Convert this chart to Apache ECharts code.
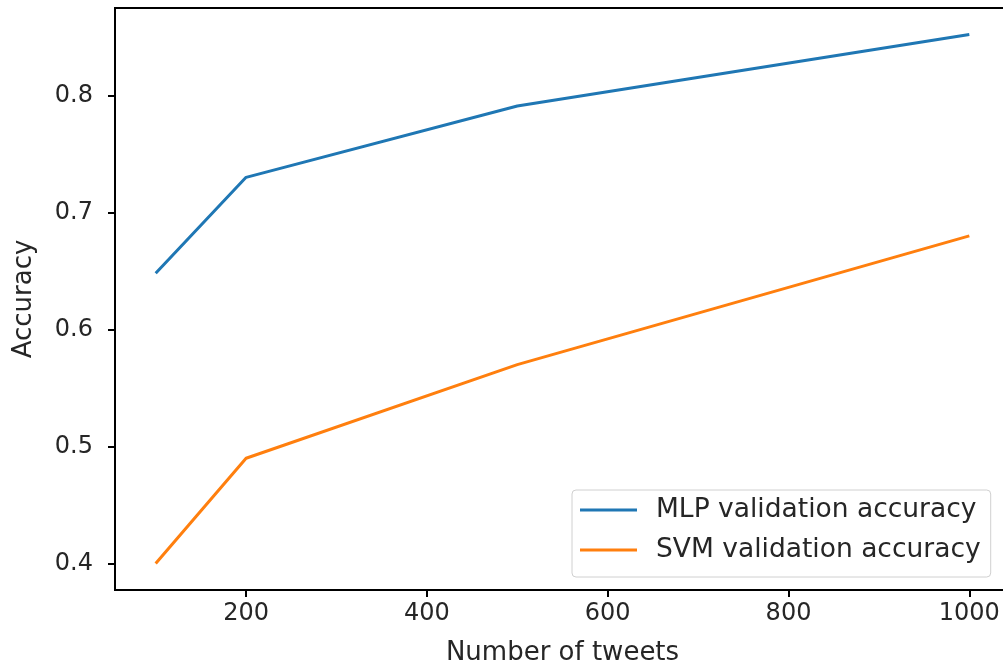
<!DOCTYPE html>
<html>
<head>
<meta charset="utf-8">
<script src="https://cdn.jsdelivr.net/npm/echarts@6/dist/echarts.min.js"></script>
<style>
html, body { margin: 0; padding: 0; background: #fff; }
#main { width: 1003px; height: 671px; }
</style>
</head>
<body>
<div id="main"></div>
<script>
var tweets = [100, 200, 500, 1000];
var mlpAcc = [0.648, 0.730, 0.791, 0.852];
var svmAcc = [0.400, 0.490, 0.570, 0.680];
var xTicks = [200, 400, 600, 800, 1000];
var yTicks = [0.4, 0.5, 0.6, 0.7, 0.8];

function pairs(xs, ys) {
	return xs.map(function (x, i) { return [x, ys[i]]; });
}

var myChart = echarts.init(document.getElementById('main'));
var font = 'DejaVu Sans';

var option = {
	animation: false,
	textStyle: { fontFamily: font },
	grid: {
		left: 115,
		top: 8,
		width: 895,
		height: 582,
		outerBoundsMode: 'none',
		show: true,
		borderColor: '#000',
		borderWidth: 2,
		backgroundColor: '#fff'
	},
	legend: {
		left: 572,
		top: 490,
		orient: 'vertical',
		icon: 'rect',
		itemWidth: 57,
		itemHeight: 3,
		itemGap: 10,
		padding: [5, 10, 12, 8],
		backgroundColor: '#fff',
		borderColor: '#d0d0d0',
		borderWidth: 1,
		borderRadius: 4,
		textStyle: { fontSize: 26.5, color: '#262626', fontFamily: font, lineHeight: 30, padding: [0, 0, 0, 14] },
		data: ['MLP validation accuracy', 'SVM validation accuracy']
	},
	xAxis: {
		type: 'value',
		min: 55,
		max: 1045,
		name: 'Number of tweets',
		nameLocation: 'middle',
		nameGap: 50,
		nameTextStyle: { fontSize: 26, color: '#262626', fontFamily: font },
		splitLine: { show: false },
		axisLine: { lineStyle: { color: '#000', width: 2 } },
		axisTick: { show: true, length: 7, lineStyle: { color: '#000', width: 2 }, customValues: xTicks },
		axisLabel: { fontSize: 24, color: '#262626', margin: 12, customValues: xTicks, formatter: function (v) { return String(v); } }
	},
	yAxis: {
		type: 'value',
		min: 0.3774,
		max: 0.8747,
		name: 'Accuracy',
		nameLocation: 'middle',
		nameGap: 78,
		nameTextStyle: { fontSize: 26, color: '#262626', fontFamily: font },
		splitLine: { show: false },
		axisLine: { show: true, lineStyle: { color: '#000', width: 2 } },
		axisTick: { show: true, length: 7, lineStyle: { color: '#000', width: 2 }, customValues: yTicks },
		axisLabel: { fontSize: 24, color: '#262626', margin: 22, customValues: yTicks, formatter: function (v) { return v.toFixed(1); } }
	},
	series: [
		{
			name: 'MLP validation accuracy',
			type: 'line',
			data: pairs(tweets, mlpAcc),
			symbol: 'none',
			color: '#1f77b4',
			lineStyle: { width: 3, color: '#1f77b4' }
		},
		{
			name: 'SVM validation accuracy',
			type: 'line',
			data: pairs(tweets, svmAcc),
			symbol: 'none',
			color: '#ff7f0e',
			lineStyle: { width: 3, color: '#ff7f0e' }
		}
	]
};
myChart.setOption(option);
</script>
</body>
</html>
